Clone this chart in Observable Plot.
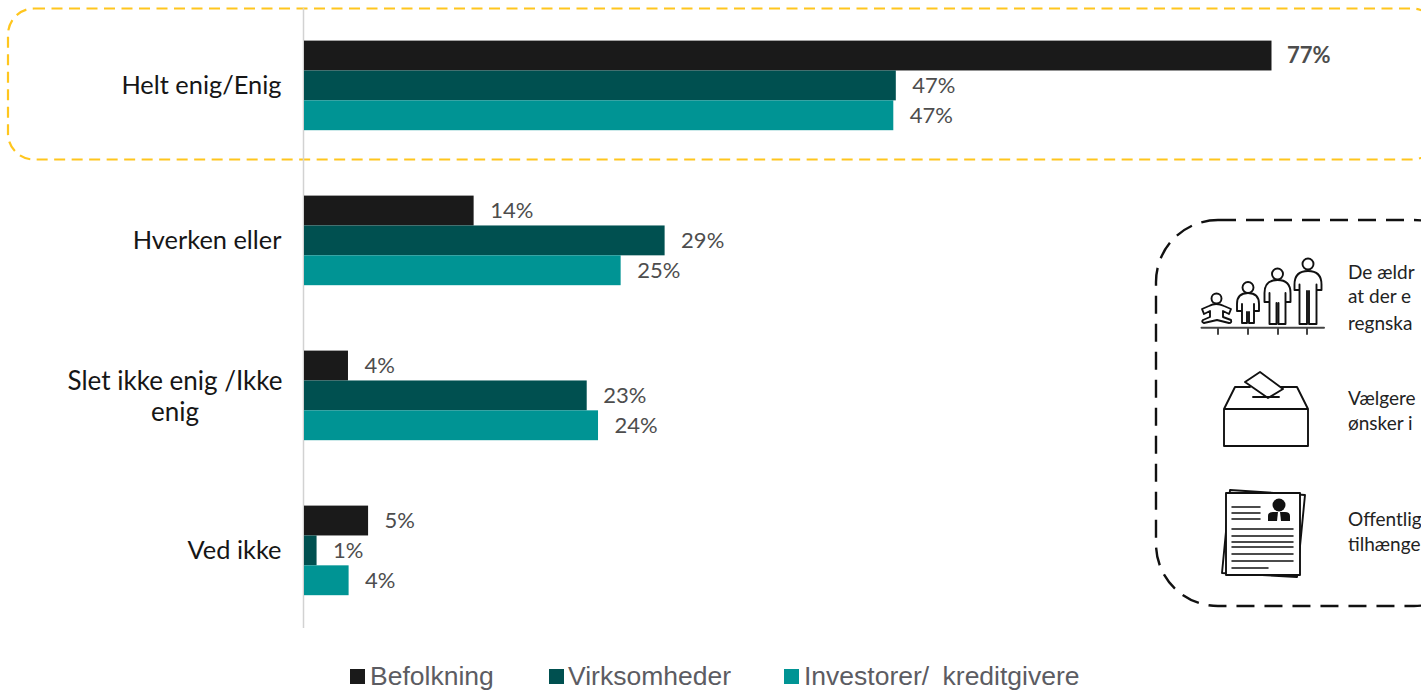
<!DOCTYPE html>
<html lang="da">
<head>
<meta charset="utf-8">
<script src="https://cdn.jsdelivr.net/npm/d3@7"></script>
<script src="https://cdn.jsdelivr.net/npm/@observablehq/plot@0.6"></script>
<style>
html,body{margin:0;padding:0;background:#fff;overflow:hidden;width:1421px;height:690px}
svg{display:block}
#legend{position:relative;width:1421px;height:50px;overflow:hidden;font-family:"Liberation Sans Narrow","Liberation Sans",sans-serif;font-size:26.5px;word-spacing:6px;color:#5c5c62}
#legend .k{position:absolute;top:29px;width:15px;height:15px}
#legend .t{position:absolute;top:20px;line-height:32px;white-space:nowrap}
</style>
</head>
<body>
<div id="chart"></div>
<div id="legend"></div>
<script>
const categories = ["Helt enig/Enig", "Hverken eller", "Slet ikke enig /Ikke\nenig", "Ved ikke"];
const series = ["Befolkning", "Virksomheder", "Investorer/ kreditgivere"];
const colors = ["#1a1a1a", "#005050", "#009494"];
const befolkning = [77, 13.5, 3.5, 5.1];
const virksomheder = [47.1, 28.7, 22.5, 1];
const investorer = [46.9, 25.2, 23.4, 3.55];
const labelsBefolkning = ["77%", "14%", "4%", "5%"];
const labelsVirksomheder = ["47%", "29%", "23%", "1%"];
const labelsInvestorer = ["47%", "25%", "24%", "4%"];
const panelTexts = [["De ældr", "at der e", "regnska"], ["Vælgere", "ønsker i"], ["Offentlig", "tilhænge"]];

const rows = [];
[[befolkning, labelsBefolkning], [virksomheder, labelsVirksomheder], [investorer, labelsInvestorer]].forEach(([vals, labs], s) => {
  vals.forEach((v, c) => rows.push({category: categories[c], series: series[s], value: v, label: labs[c]}));
});

const labelFont = "Lato";
const NS = "http://www.w3.org/2000/svg";
function decoration() {
  const g = d3.select(document.createElementNS(NS, "g")).attr("fill", "none");
  // highlight + panel outlines
  g.append("rect").attr("x", 8).attr("y", 8.5).attr("width", 1430).attr("height", 151).attr("rx", 26)
    .attr("stroke", "#ffc61e").attr("stroke-width", 2.2).attr("stroke-dasharray", "11 6.5");
  g.append("rect").attr("x", 1156).attr("y", 220).attr("width", 320).attr("height", 386).attr("rx", 62)
    .attr("stroke", "#111").attr("stroke-width", 2.4).attr("stroke-dasharray", "18 10");
  const ic = g.append("g").attr("stroke", "#111").attr("stroke-width", 1.9).attr("stroke-linejoin", "round").attr("stroke-linecap", "round");
  // people icon
  const person = (cx, hy, r, top, w, arm, bottom) => {
    ic.append("circle").attr("cx", cx).attr("cy", hy).attr("r", r);
    const i = w - 5;
    ic.append("path").attr("d",
      `M${cx - w},${arm} V${top + w} Q${cx - w},${top} ${cx},${top} Q${cx + w},${top} ${cx + w},${top + w} V${arm}
       M${cx - w},${arm} H${cx - i} V${top + w}
       M${cx + w},${arm} H${cx + i} V${top + w}
       M${cx - i},${arm} V${bottom} H${cx - 1} V${arm + 1}
       M${cx + i},${arm} V${bottom} H${cx + 1} V${arm + 1}`);
  };
  person(1308, 264, 5.5, 271, 13.5, 290, 324);
  person(1277.5, 274, 5.5, 280, 13, 302, 324);
  person(1248, 287.5, 5.5, 293, 11, 311, 323);
  ic.append("circle").attr("cx", 1216.5).attr("cy", 298.5).attr("r", 5);
  ic.append("path").attr("d", "M1209,306 Q1216,302 1224,306 L1231,309 L1229,314 L1223,311 L1223,317 L1231,320 Q1232,323 1229,323 L1217,320 L1204,323 Q1201,322 1203,320 L1210,317 L1210,311 L1204,314 L1202,309 Z");
  ic.append("path").attr("stroke-width", 2).attr("stroke", "#444").attr("d", "M1201.5,327.7 H1324 M1218,328 V334 M1248,328 V334 M1278,328 V334 M1307,328 V334");
  // ballot box
  ic.append("path").attr("d", "M1224,409 H1308 V446 H1224 Z M1224,409 L1235,387 H1250 M1280,387 H1297 L1308,409");
  ic.append("path").attr("d", "M1260,372 L1283,389 L1268,398 L1245,382 Z M1253,397 H1279").attr("fill", "#fff");
  // document
  ic.append("path").attr("fill", "#fff").attr("d", "M1230,490 L1305,495 L1297,577 L1222,573 Z");
  ic.append("path").attr("fill", "#fff").attr("d", "M1226,493 H1300 V575 H1226 Z");
  ic.append("path").attr("d", "M1232,507 H1260 M1232,513 H1260 M1232,519 H1260 M1232,529 H1293 M1232,536 H1293 M1232,542 H1293 M1232,547 H1293 M1232,554 H1293 M1232,561 H1293 M1232,568 H1268").attr("stroke-width", 1.5);
  ic.append("circle").attr("cx", 1279).attr("cy", 505).attr("r", 6.5).attr("fill", "#111").attr("stroke", "none");
  ic.append("path").attr("fill", "#111").attr("stroke", "none").attr("d", "M1268,521 V516 Q1268,512 1273,512 H1285 Q1290,512 1290,516 V521 Z");
  ic.append("path").attr("fill", "#fff").attr("stroke", "none").attr("d", "M1278,512 H1280 L1281,521 H1277 Z");
  // panel text
  const ys = [[273, 297, 324], [399, 424], [520, 545]];
  panelTexts.forEach((lines, i) => lines.forEach((t, j) => {
    g.append("text").attr("x", 1348).attr("y", ys[i][j] + 6).text(t).attr("text-anchor", "start")
      .attr("fill", "#222").attr("stroke", "none").attr("font-family", labelFont).attr("font-size", 19);
  }));
  return g.node();
}

const isBold = d => d.label === "77%";
const plot = Plot.plot({
  width: 1421,
  height: 640,
  marginTop: 8,
  marginBottom: 12,
  marginLeft: 0,
  marginRight: 0,
  x: {domain: [0, 77], range: [304, 1271.5], axis: null},
  y: {domain: series, range: [40.6, 130.2], padding: 0, round: false, axis: null},
  fy: {domain: categories, padding: 0, round: false, axis: null},
  color: {domain: series, range: colors},
  marks: [
    Plot.frame({facet: "super", stroke: "none", render: () => decoration()}),
    Plot.ruleX([0], {stroke: "#d2d2d2", strokeWidth: 1.5, dx: -1}),
    Plot.barX(rows, {x: "value", y: "series", fy: "category", fill: "series"}),
    Plot.text(rows.filter(d => !isBold(d)), {
      x: "value", y: "series", fy: "category", text: "label", dx: 16, textAnchor: "start",
      fill: "#4d4d4d", fontFamily: labelFont, fontSize: 22
    }),
    Plot.text(rows.filter(isBold), {
      x: "value", y: "series", fy: "category", text: "label", dx: 15, textAnchor: "start",
      fill: "#4d4d4d", fontFamily: labelFont, fontSize: 22, fontWeight: 700
    }),
    Plot.text(categories.filter(c => !c.includes("\n")), {
      fy: d => d, x: () => 0, y: () => series[1], text: d => d, dx: -23, textAnchor: "end",
      fill: "#161616", fontFamily: labelFont, fontSize: 25.4
    }),
    Plot.text(categories.filter(c => c.includes("\n")), {
      fy: d => d, x: () => 0, y: () => series[1], text: d => d, dx: -129.5, dy: -0.5, textAnchor: "middle",
      lineHeight: 1.18, fill: "#161616", fontFamily: labelFont, fontSize: 26
    })
  ]
});
document.getElementById("chart").append(plot);

const legend = document.getElementById("legend");
[[350, 370], [549, 568], [784, 804]].forEach(([kx, tx], i) => {
  const k = document.createElement("div");
  k.className = "k"; k.style.left = kx + "px"; k.style.background = colors[i];
  const t = document.createElement("div");
  t.className = "t"; t.style.left = tx + "px"; t.textContent = series[i];
  legend.append(k, t);
});
</script>
</body>
</html>
